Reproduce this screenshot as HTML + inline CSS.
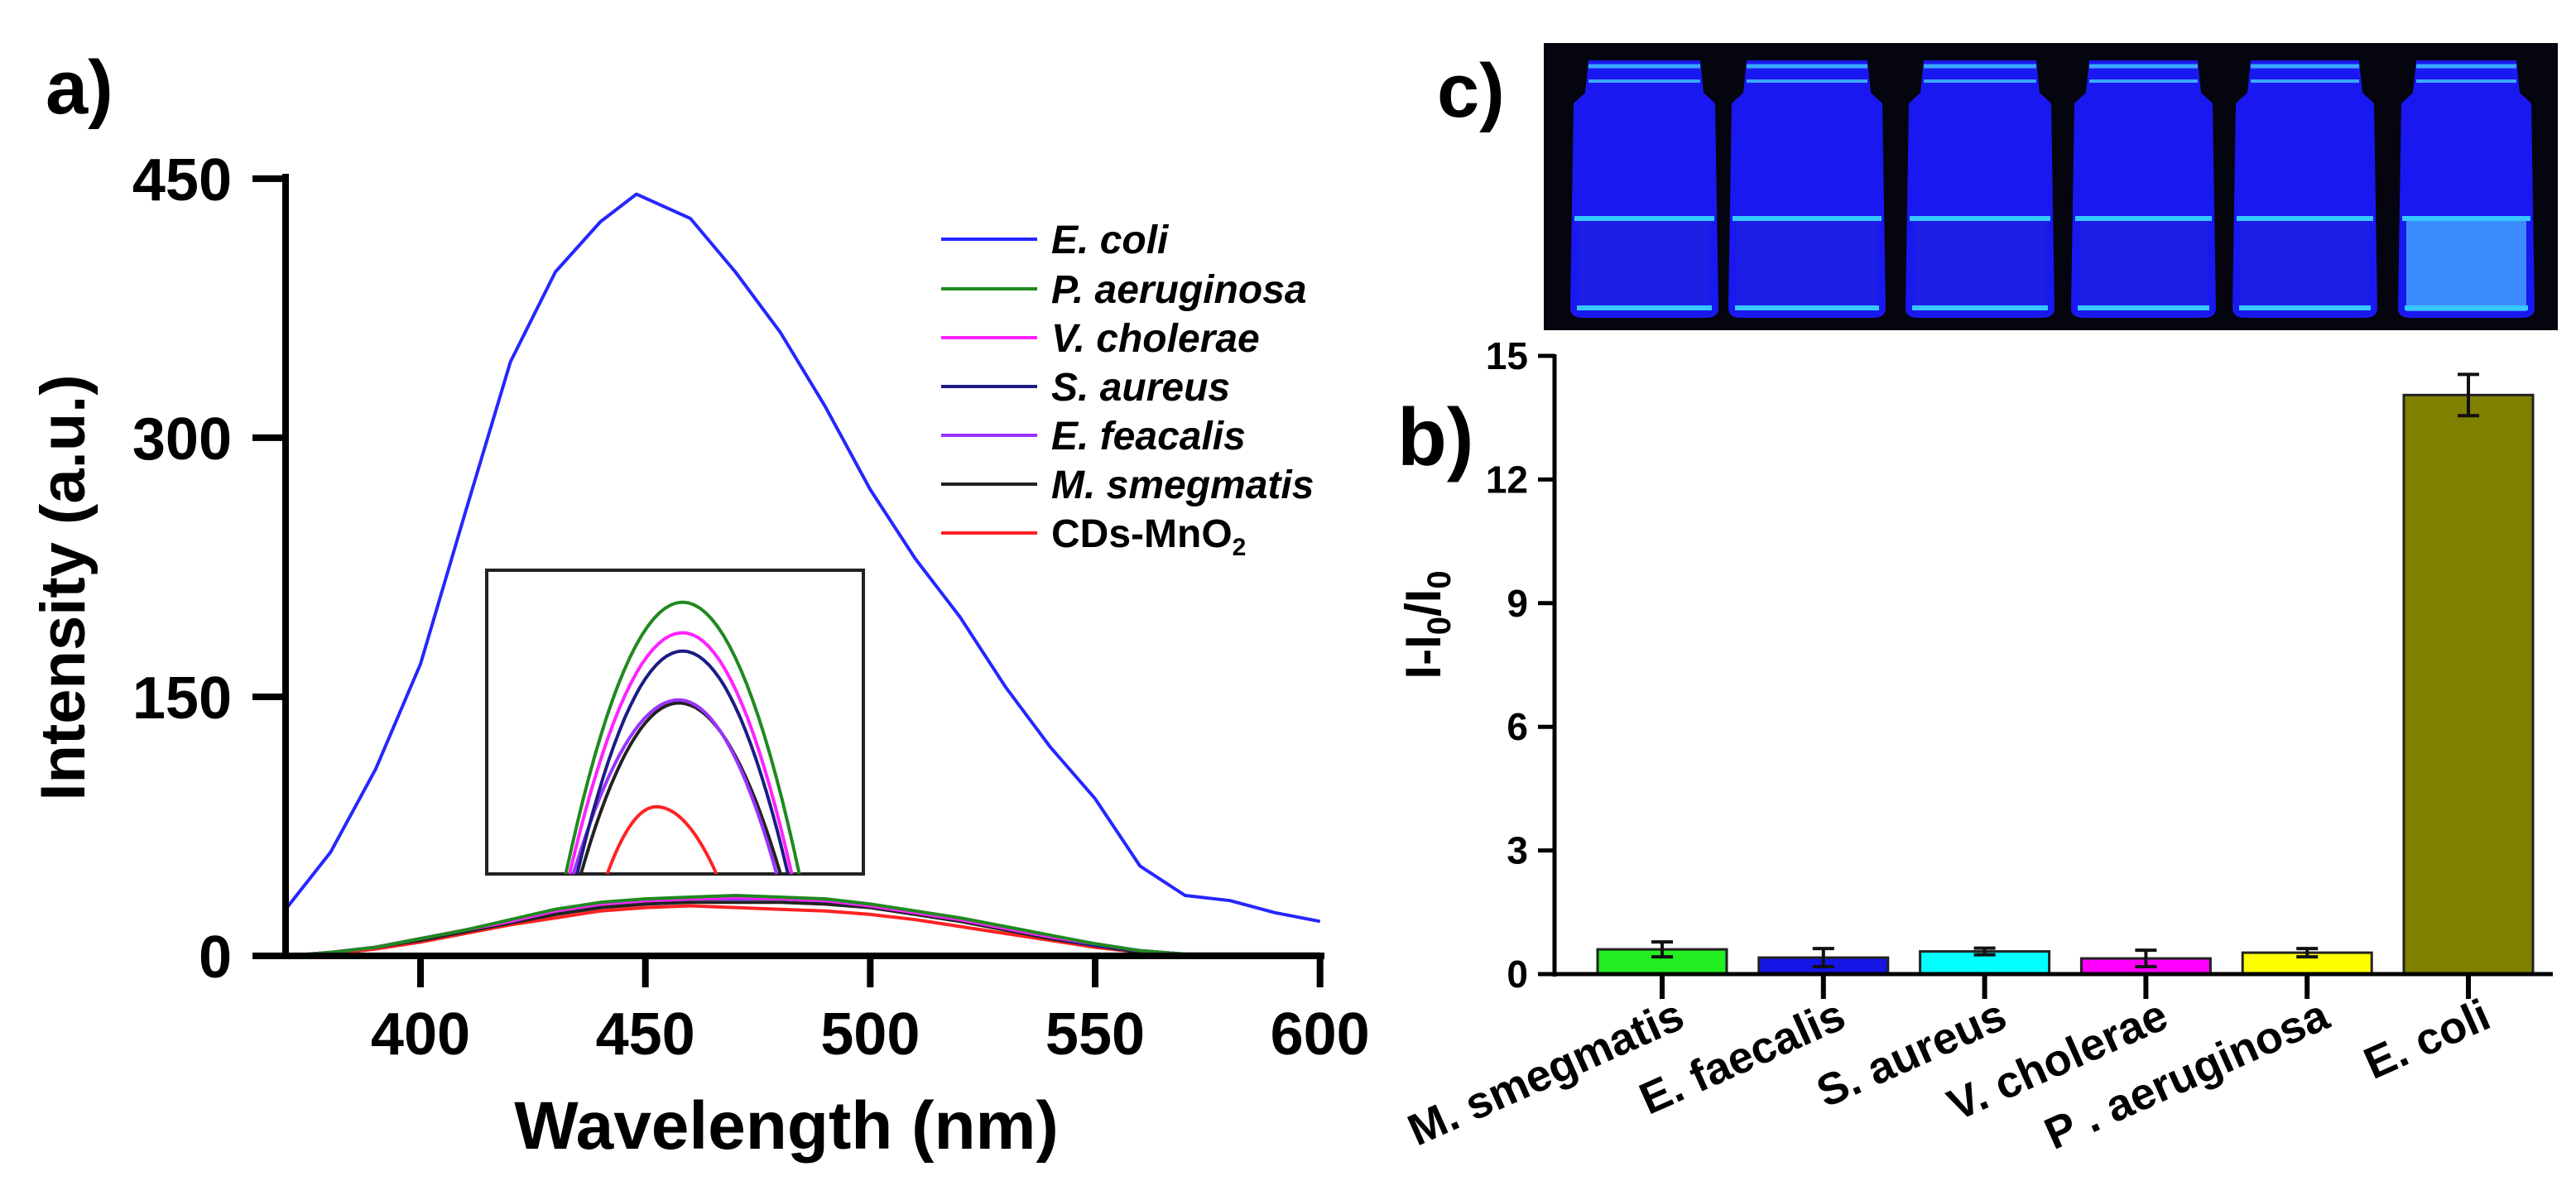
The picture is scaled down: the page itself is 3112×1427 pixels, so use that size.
<!DOCTYPE html>
<html><head><meta charset="utf-8"><style>
html,body{margin:0;padding:0;background:#fff;}
svg{display:block;font-family:"Liberation Sans",Arial,sans-serif;font-weight:bold;}
</style></head><body>
<svg id="fig" width="3112" height="1427" viewBox="0 0 3112 1427" xmlns="http://www.w3.org/2000/svg">
<text x="55" y="137" font-size="92">a)</text>
<text x="1736" y="141" font-size="92">c)</text>
<text x="1688" y="562" font-size="98">b)</text>
<g id="spec"></g>
<g id="photo"></g>
<g id="bars"></g>
</svg>
<script>
// ---------- Panel a data ----------
const wl = [370,380,390,400,410,420,430,440,448,460,470,480,490,500,510,520,530,540,550,560,570,580,590,600];
const ecoli = [27,60,108,169,257,344,396,425,441,427,396,361,318,270,230,196,156,121,91,52,35,32,25,20];
const wlLow = [370,380,390,400,410,420,430,440,450,460,470,480,490,500,510,520,530,540,550,560,570,580,590,600];
const paer = [0,2,5,10,15,21,27,31,33,34,35,34,33,30,26,22,17,12,7,3,1,1,1,1];
const vcho = [0,2,5,10,15,20,26,30,32,33,34,33,32,29,25,21,16,11,7,3,1,1,1,1];
const saur = [0,2,5,10,15,20,26,30,32,33,34,33,32,29,25,21,16,11,6,3,1,1,1,1];
const efea = [0,2,5,10,15,20,26,30,32,33,33,33,32,29,25,21,16,11,6,3,1,1,1,1];
const msme = [0,2,5,9,14,19,24,28,30,31,31,31,30,28,24,20,15,10,6,2,1,0,0,0];
const cds = [0,1,4,8,13,18,22,26,28,29,28,27,26,24,21,17,13,9,5,2,0,0,0,0];
const seriesNames = ["E. coli","P. aeruginosa","V. cholerae","S. aureus","E. feacalis","M. smegmatis","CDs-MnO"];
const seriesColors = ["#2626ff","#1f8a1f","#ff22ff","#1c1c85","#9a33ff","#222222","#ff2222"];
const xTicks = [400,450,500,550,600];
const yTicks = [0,150,300,450];
// inset (zoomed peaks, inset units 0-100)
const insetPeak = [89,79,73,57,56,22];
const insetStart = [21,22,24,23,25,32];
const insetEnd = [83,81,80,77,78,61];
const insetPeakPos = [52,52,52,51,51,45];

// ---------- Panel b data ----------
const cats = ["M. smegmatis","E. faecalis","S. aureus","V. cholerae","P . aeruginosa","E. coli"];
const vals = [0.6,0.4,0.55,0.38,0.52,14.05];
const errs = [0.18,0.22,0.08,0.2,0.1,0.5];
const barColors = ["#22ee22","#1515e6","#00ffff","#ff00ff","#ffff00","#808000"];
const bTicks = [0,3,6,9,12,15];

const NS="http://www.w3.org/2000/svg";
function mk(parent,tag,attrs){const e=document.createElementNS(NS,tag);for(const k in attrs)e.setAttribute(k,attrs[k]);parent.appendChild(e);return e;}

const xS = v => 345 + (v-370)*(508-345)/30;
const yS = v => 1155 - v*2.087;
const spec=document.getElementById('spec');
const allSeries=[ecoli,paer,vcho,saur,efea,msme,cds];
for(let s=allSeries.length-1;s>=0;s--){
  const xs = s===0?wl:wlLow;
  const pts = allSeries[s].map((v,i)=>xS(xs[i]).toFixed(1)+','+yS(v).toFixed(1)).join(' ');
  const p=mk(spec,'polyline',{points:pts,fill:'none',stroke:seriesColors[s],'stroke-width':4,'stroke-linejoin':'round'});
  
  
}
let ax=mk(spec,'line',{x1:345,y1:216-6,x2:345,y2:1159,stroke:'#000','stroke-width':8});

ax=mk(spec,'line',{x1:305,y1:1155,x2:1600,y2:1155,stroke:'#000','stroke-width':8});

xTicks.forEach(t=>{
  const l=mk(spec,'line',{x1:xS(t),y1:1155,x2:xS(t),y2:1193,stroke:'#000','stroke-width':8});
  
  const tx=mk(spec,'text',{x:xS(t),y:1274,'font-size':72,'text-anchor':'middle'});tx.textContent=t;
  
});
yTicks.forEach(t=>{
  const l=mk(spec,'line',{x1:305,y1:yS(t),x2:345,y2:yS(t),stroke:'#000','stroke-width':8});
  
  const tx=mk(spec,'text',{x:280,y:yS(t)+26,'font-size':72,'text-anchor':'end'});tx.textContent=t;
  
});
let tt=mk(spec,'text',{x:950,y:1388,'font-size':82,'text-anchor':'middle'});tt.textContent='Wavelength (nm)';

tt=mk(spec,'text',{x:0,y:0,'font-size':76,'text-anchor':'middle',transform:'translate(102,710) rotate(-90)'});tt.textContent='Intensity (a.u.)';

const legY=[289,349,408,467,526,585,644];
seriesNames.forEach((n,i)=>{
  const g=mk(spec,'g',{});
  
  mk(g,'line',{x1:1137,y1:legY[i],x2:1253,y2:legY[i],stroke:seriesColors[i],'stroke-width':4});
  const t=mk(g,'text',{x:1270,y:legY[i]+17,'font-size':48,'font-style':i<6?'italic':'normal'});
  t.textContent=n;
  if(i===6){const s=mk(t,'tspan',{'font-size':30,dy:10});s.textContent='2';}
});
const ig=mk(spec,'g',{});

mk(ig,'rect',{x:588,y:689,width:455,height:367,fill:'#fff',stroke:'#222','stroke-width':4});
const ix=u=>588+u*4.55, iy=v=>1056-v*3.69;
for(let s=insetPeak.length-1;s>=0;s--){
  const a=insetStart[s],b=insetEnd[s],c=insetPeakPos[s],h=insetPeak[s];
  const pts=[];
  for(let k=0;k<=40;k++){
    const u=a+(b-a)*k/40;
    const w=u<c?(c-u)/(c-a):(u-c)/(b-c);
    pts.push(ix(u).toFixed(1)+','+iy(h*(1-w*w)).toFixed(1));
  }
  const p=mk(ig,'polyline',{points:pts.join(' '),fill:'none',stroke:seriesColors[s+1],'stroke-width':4});
  
}

// ---------- Photo ----------
const ph=document.getElementById('photo');
let r=mk(ph,'rect',{x:1865,y:52,width:1225,height:347,fill:'#050510'});

const vialX=[[1897,2076],[2088,2278],[2302,2482],[2502,2677],[2697,2872],[2897,3062]];
vialX.forEach((v,i)=>{
  const g=mk(ph,'g',{});
  
  const [a,b]=v;const w=b-a;
  mk(g,'path',{d:`M${a+22},73 L${b-22},73 L${b-18},112 L${b-4},125 L${b},372 Q${b},384 ${b-15},384 L${a+15},384 Q${a},384 ${a},372 L${a+4},125 L${a+18},112 Z`,fill:'#1a18f0'});
  mk(g,'rect',{x:a+10,y:264,width:w-20,height:112,fill:i===5?'#3d8cff':'#1c1ee6'});
  mk(g,'line',{x1:a+5,y1:264,x2:b-5,y2:264,stroke:'#36c8ff','stroke-width':6});
  mk(g,'line',{x1:a+8,y1:372,x2:b-8,y2:372,stroke:'#36c8ff','stroke-width':6});
  mk(g,'line',{x1:a+22,y1:80,x2:b-22,y2:80,stroke:'#3aa8ff','stroke-width':5});
  mk(g,'line',{x1:a+22,y1:98,x2:b-22,y2:98,stroke:'#3aa8ff','stroke-width':4});
});

// ---------- Panel b ----------
const bg=document.getElementById('bars');
const bx = i => 2008 + i*194.8;
const by = v => 1177 - v*49.8;
vals.forEach((v,i)=>{
  const b=mk(bg,'rect',{x:bx(i)-78,y:by(v),width:156,height:1177-by(v),fill:barColors[i],stroke:'#222','stroke-width':3});
  
  
  const e=mk(bg,'path',{d:`M${bx(i)},${by(v+errs[i])} L${bx(i)},${by(v-errs[i])} M${bx(i)-13},${by(v+errs[i])} L${bx(i)+13},${by(v+errs[i])} M${bx(i)-13},${by(v-errs[i])} L${bx(i)+13},${by(v-errs[i])}`,stroke:'#111','stroke-width':4,fill:'none'});
  
  const t=mk(bg,'line',{x1:bx(i),y1:1177,x2:bx(i),y2:1207,stroke:'#000','stroke-width':6});
  
  const lb=mk(bg,'text',{x:0,y:0,'font-size':54,'text-anchor':'end',transform:`translate(${bx(i)+30},1240) rotate(-24)`});
  lb.textContent=cats[i];
  
});
ax=mk(bg,'line',{x1:1878,y1:by(15)-2,x2:1878,y2:1180,stroke:'#000','stroke-width':5});

ax=mk(bg,'line',{x1:1860,y1:1177,x2:3084,y2:1177,stroke:'#000','stroke-width':5});

bTicks.forEach(t=>{
  const l=mk(bg,'line',{x1:1858,y1:by(t),x2:1878,y2:by(t),stroke:'#000','stroke-width':5});
  
  const tx=mk(bg,'text',{x:1846,y:by(t)+16,'font-size':46,'text-anchor':'end'});tx.textContent=t;
  
});
tt=mk(bg,'text',{x:0,y:0,'font-size':60,'text-anchor':'middle',transform:'translate(1740,755) rotate(-90)'});

tt.appendChild(document.createTextNode('I-I'));
let s1=mk(tt,'tspan',{'font-size':40,dy:12});s1.textContent='0';
let s2=mk(tt,'tspan',{dy:-12});s2.textContent='/I';
let s3=mk(tt,'tspan',{'font-size':40,dy:12});s3.textContent='0';
</script>
</body></html>
